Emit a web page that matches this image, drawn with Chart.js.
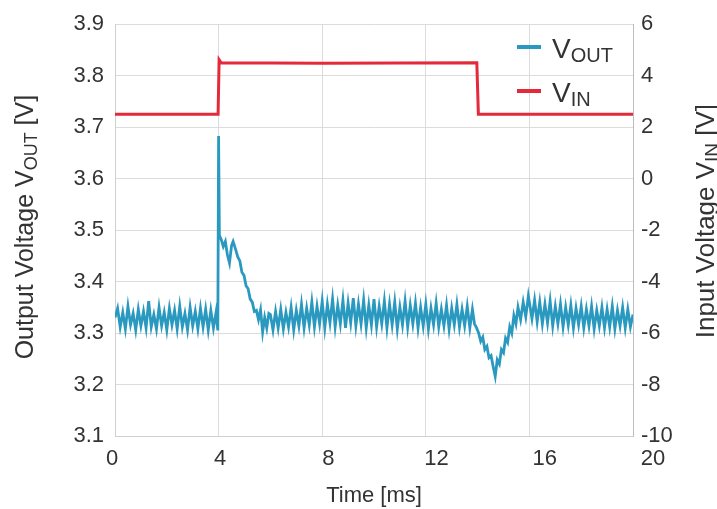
<!DOCTYPE html>
<html>
<head>
<meta charset="utf-8">
<script src="https://cdn.jsdelivr.net/npm/chart.js@4.4.0/dist/chart.umd.min.js"></script>
<style>
  body { margin: 0; background: #fff; }
  #wrap { width: 717px; height: 509px; }
</style>
</head>
<body>
<div id="wrap"><canvas id="myChart" width="717" height="509"></canvas></div>
<script>
// output voltage trace (time in ms, volts)
const voutTime = [
  0.0, 0.1, 0.2, 0.3, 0.4, 0.5, 0.6, 0.7, 0.8, 0.9, 1.0, 1.1, 1.2, 1.3, 1.4, 1.5, 1.6, 1.7, 1.8, 1.9,
  2.0, 2.1, 2.2, 2.3, 2.4, 2.5, 2.6, 2.7, 2.8, 2.9, 3.0, 3.1, 3.2, 3.3, 3.4, 3.5, 3.6, 3.7, 3.8, 3.9,
  3.97, 4.00, 4.03, 4.10, 4.18, 4.26, 4.34, 4.42, 4.50, 4.56, 4.66, 4.74, 4.82, 4.90, 4.98, 5.06,
  5.14, 5.22, 5.30, 5.38, 5.46, 5.54, 5.62, 5.70, 5.78, 5.86, 5.94,
  6.0, 6.1, 6.2, 6.3, 6.4, 6.5, 6.6, 6.7, 6.8, 6.9, 7.0, 7.1, 7.2, 7.3, 7.4, 7.5, 7.6, 7.7, 7.8, 7.9,
  8.0, 8.1, 8.2, 8.3, 8.4, 8.5, 8.6, 8.7, 8.8, 8.9, 9.0, 9.1, 9.2, 9.3, 9.4, 9.5, 9.6, 9.7, 9.8, 9.9,
  10.0, 10.1, 10.2, 10.3, 10.4, 10.5, 10.6, 10.7, 10.8, 10.9, 11.0, 11.1, 11.2, 11.3, 11.4, 11.5, 11.6, 11.7, 11.8, 11.9,
  12.0, 12.1, 12.2, 12.3, 12.4, 12.5, 12.6, 12.7, 12.8, 12.9, 13.0, 13.1, 13.2, 13.3, 13.4, 13.5, 13.6, 13.7, 13.8, 13.88,
  13.96, 14.04, 14.12, 14.20, 14.28, 14.36, 14.44, 14.52, 14.60, 14.68, 14.76, 14.84, 14.92, 15.00,
  15.08, 15.16, 15.24, 15.32, 15.40, 15.48, 15.56, 15.66, 15.76, 15.86, 15.96,
  16.1, 16.2, 16.3, 16.4, 16.5, 16.6, 16.7, 16.8, 16.9, 17.0, 17.1, 17.2, 17.3, 17.4, 17.5, 17.6, 17.7, 17.8, 17.9,
  18.0, 18.1, 18.2, 18.3, 18.4, 18.5, 18.6, 18.7, 18.8, 18.9, 19.0, 19.1, 19.2, 19.3, 19.4, 19.5, 19.6, 19.7, 19.8, 19.9, 20.0
];
const voutValues = [
  3.330, 3.348, 3.312, 3.340, 3.308, 3.352, 3.316, 3.338, 3.306, 3.346, 3.314, 3.342, 3.310, 3.362, 3.312, 3.336, 3.308, 3.350, 3.314, 3.340,
  3.306, 3.348, 3.316, 3.344, 3.308, 3.352, 3.312, 3.338, 3.306, 3.350, 3.314, 3.342, 3.308, 3.348, 3.312, 3.346, 3.306, 3.344, 3.310, 3.340,
  3.305, 3.683, 3.490, 3.482, 3.468, 3.478, 3.452, 3.436, 3.470, 3.478, 3.462, 3.448, 3.440, 3.418, 3.412, 3.392,
  3.386, 3.366, 3.360, 3.342, 3.344, 3.326, 3.345, 3.302, 3.330, 3.310, 3.338,
  3.336, 3.306, 3.342, 3.310, 3.346, 3.308, 3.340, 3.312, 3.350, 3.306, 3.344, 3.314, 3.356, 3.310, 3.348, 3.316, 3.360, 3.312, 3.352, 3.318,
  3.362, 3.310, 3.356, 3.320, 3.366, 3.312, 3.354, 3.318, 3.364, 3.310, 3.358, 3.320, 3.368, 3.314, 3.356, 3.318, 3.364, 3.310, 3.354, 3.316,
  3.366, 3.312, 3.352, 3.318, 3.362, 3.310, 3.356, 3.316, 3.360, 3.308, 3.350, 3.316, 3.362, 3.312, 3.354, 3.318, 3.358, 3.310, 3.350, 3.314,
  3.356, 3.308, 3.348, 3.316, 3.358, 3.312, 3.346, 3.314, 3.354, 3.308, 3.348, 3.316, 3.356, 3.312, 3.346, 3.314, 3.352, 3.310, 3.346, 3.318,
  3.310, 3.300, 3.284, 3.292, 3.268, 3.274, 3.252, 3.256, 3.235, 3.216, 3.248, 3.240, 3.268, 3.262,
  3.290, 3.282, 3.312, 3.300, 3.334, 3.318, 3.350, 3.326, 3.360, 3.332, 3.372,
  3.328, 3.364, 3.322, 3.360, 3.318, 3.356, 3.320, 3.362, 3.314, 3.352, 3.318, 3.356, 3.312, 3.350, 3.316, 3.354, 3.310, 3.348, 3.316,
  3.352, 3.310, 3.346, 3.314, 3.352, 3.308, 3.344, 3.314, 3.350, 3.310, 3.346, 3.312, 3.352, 3.308, 3.344, 3.314, 3.350, 3.310, 3.346, 3.312, 3.336
];

// input voltage step
const vinTime = [0, 3.98, 4.02, 4.10, 8.0, 13.97, 14.03, 20];
const vinValues = [2.5, 2.5, 4.62, 4.5, 4.48, 4.5, 2.5, 2.5];

const timeTicks = [0, 4, 8, 12, 16, 20];
const voutTicks = [3.1, 3.2, 3.3, 3.4, 3.5, 3.6, 3.7, 3.8, 3.9];
const vinTicks = [-10, -8, -6, -4, -2, 0, 2, 4, 6];

const FONT = '"Liberation Sans", Arial, sans-serif';
const textColor = '#333';
const gridColor = '#dcdcdc';
const voutColor = '#2a99c0';
const vinColor = '#e3293a';

Chart.defaults.font.family = FONT;

// draw text with a subscript part, on a given baseline
function drawSubText(c, x, y, parts) {
  let cx = x;
  parts.forEach(p => {
    c.font = p.size + 'px ' + FONT;
    c.fillText(p.text, cx, y + (p.dy || 0));
    cx += c.measureText(p.text).width;
  });
}

function partsWidth(c, parts) {
  let w = 0;
  parts.forEach(p => {
    c.font = p.size + 'px ' + FONT;
    w += c.measureText(p.text).width;
  });
  return w;
}

function drawRotated(c, x, yCenter, parts) {
  c.save();
  c.translate(x, yCenter);
  c.rotate(-Math.PI / 2);
  c.textBaseline = 'alphabetic';
  c.textAlign = 'left';
  drawSubText(c, -partsWidth(c, parts) / 2, 0, parts);
  c.restore();
}

const labelsPlugin = {
  id: 'labels',
  afterDraw(chart) {
    const c = chart.ctx;
    const area = chart.chartArea;
    const mid = (area.top + area.bottom) / 2;
    c.save();
    c.fillStyle = textColor;

    // axis titles with subscripts
    drawRotated(c, 33, mid - 3, [
      { text: 'Output Voltage V', size: 25 },
      { text: 'OUT', size: 18, dy: 4 },
      { text: ' [V]', size: 25 }
    ]);
    drawRotated(c, 714, mid - 9, [
      { text: 'Input Voltage V', size: 26 },
      { text: 'IN', size: 19, dy: 4 },
      { text: ' [V]', size: 26 }
    ]);

    // legend
    const items = [
      { sub: 'OUT', color: voutColor, y: 47 },
      { sub: 'IN', color: vinColor, y: 91 }
    ];
    items.forEach(it => {
      c.strokeStyle = it.color;
      c.lineWidth = 4;
      c.beginPath();
      c.moveTo(517, it.y);
      c.lineTo(541, it.y);
      c.stroke();
      c.fillStyle = textColor;
      c.textBaseline = 'alphabetic';
      c.textAlign = 'left';
      drawSubText(c, 552, it.y + 11, [
        { text: 'V', size: 28 },
        { text: it.sub, size: 20, dy: 4 }
      ]);
    });
    c.restore();
  }
};

const ctx = document.getElementById('myChart').getContext('2d');
new Chart(ctx, {
  type: 'line',
  data: {
    datasets: [
      {
        label: 'VIN',
        data: vinTime.map((t, i) => ({ x: t, y: vinValues[i] })),
        yAxisID: 'yRight',
        borderColor: vinColor,
        borderWidth: 3,
        pointRadius: 0,
        tension: 0
      },
      {
        label: 'VOUT',
        data: voutTime.map((t, i) => ({ x: t, y: voutValues[i] })),
        yAxisID: 'yLeft',
        borderColor: voutColor,
        borderWidth: 2.8,
        pointRadius: 0,
        tension: 0
      }
    ]
  },
  options: {
    responsive: false,
    animation: false,
    layout: { padding: { top: 23, left: 0, right: 0, bottom: 0 } },
    plugins: {
      legend: { display: false },
      tooltip: { enabled: false }
    },
    scales: {
      // grid only
      x: {
        type: 'linear',
        min: 0,
        max: 20,
        afterBuildTicks: s => { s.ticks = timeTicks.map(v => ({ value: v })); },
        afterFit: s => { s.height = 0; },
        grid: { color: gridColor, drawTicks: false },
        border: { color: '#d0d0d0' },
        ticks: { display: false }
      },
      // tick labels, which sit slightly spread out in the original
      xLabels: {
        type: 'linear',
        position: 'bottom',
        min: 0.111,
        max: 19.26,
        afterBuildTicks: s => { s.ticks = timeTicks.map(v => ({ value: v })); },
        afterFit: s => { s.height = 73; },
        grid: { display: false, drawTicks: false },
        border: { display: false },
        ticks: { font: { size: 22 }, color: textColor, padding: 10, maxRotation: 0, autoSkip: false },
        title: { display: true, text: 'Time [ms]', font: { size: 22 }, color: textColor, padding: 0 }
      },
      yLeft: {
        position: 'left',
        min: 3.1,
        max: 3.9,
        afterBuildTicks: s => { s.ticks = voutTicks.map(v => ({ value: v })); },
        afterFit: s => { s.width = 115; },
        grid: { color: gridColor, drawTicks: false },
        border: { color: '#d0d0d0' },
        ticks: { font: { size: 22 }, color: textColor, padding: 11, callback: v => v.toFixed(1) }
      },
      yRight: {
        position: 'right',
        min: -10,
        max: 6,
        afterBuildTicks: s => { s.ticks = vinTicks.map(v => ({ value: v })); },
        afterFit: s => { s.width = 84; },
        grid: { drawOnChartArea: false, drawTicks: false },
        border: { color: '#bdbdbd' },
        ticks: { font: { size: 22 }, color: textColor, padding: 8 }
      }
    }
  },
  plugins: [labelsPlugin]
});
</script>
</body>
</html>
